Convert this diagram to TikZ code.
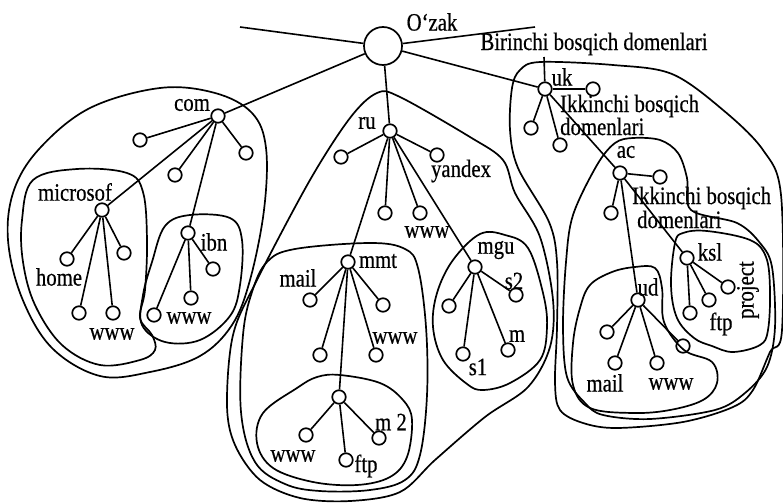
\documentclass[tikz,border=0pt]{standalone}
\usepackage{fontspec}
\newfontfamily\lf[FakeStretch=0.83,FakeBold=0.5]{Liberation Serif}
\begin{document}
\begin{tikzpicture}[x=1pt,y=-1pt,
  nd/.style={circle,draw,line width=1.7pt,minimum size=13.5pt,inner sep=0pt},
  rootnd/.style={circle,draw,line width=1.7pt,minimum size=38pt,inner sep=0pt},
  lbl/.style={font=\lf\fontsize{25}{25}\selectfont,inner sep=0pt},
  edge/.style={line width=1.6pt},
  blobline/.style={line width=1.7pt}]
\useasboundingbox (0,0) rectangle (783,503);

% ---------- contours ----------
% com
\draw[blobline] plot[smooth cycle,tension=0.6] coordinates {(8,240) (14,190) (40,148) (90,108) (160,88) (215,93) (252,113) (266,148) (264,210) (250,280) (232,325) (200,356) (150,372) (100,376) (52,348) (22,298)};
% microsof
\draw[blobline] plot[smooth cycle,tension=0.6] coordinates {(33,180) (77,169) (127,173) (143,192) (147,240) (145,290) (140,318) (152,335) (155,350) (140,360) (100,365) (62,345) (35,305) (23,262) (22,220)};
% ibn
\draw[blobline] plot[smooth cycle,tension=0.6] coordinates {(165,226) (190,215) (230,218) (242,240) (240,285) (230,316) (200,340) (165,342) (142,325) (143,295) (152,262)};
% ru
\draw[blobline] plot[smooth cycle,tension=0.55] coordinates {(377,93) (400,97) (470,137) (503,160) (515,193) (540,237) (553,300) (550,347) (528,387) (485,417) (435,460) (400,492) (350,501) (300,498) (260,480) (235,445) (227,405) (233,335) (257,280) (310,180) (350,118)};
% mmt
\draw[blobline] plot[smooth cycle,tension=0.6] coordinates {(267,262) (295,249) (370,243) (405,249) (418,268) (426,327) (427,395) (420,455) (405,480) (370,490) (320,491) (285,484) (255,462) (241,412) (243,335) (252,292)};
% m2
\draw[blobline] plot[smooth cycle,tension=0.6] coordinates {(297,388) (317,377) (340,375) (380,383) (403,400) (412,420) (407,457) (390,477) (357,485) (313,482) (273,468) (257,443) (263,413)};
% mgu
\draw[blobline] plot[smooth cycle,tension=0.6] coordinates {(480,234) (505,235) (528,248) (543,293) (547,327) (540,360) (510,383) (483,390) (467,384) (443,360) (433,327) (437,293) (453,260)};
% uk
\draw[blobline] plot[smooth cycle,tension=0.55] coordinates {(512,88) (520,70) (540,62) (613,65) (672,74) (723,110) (763,150) (781,195) (782,330) (770,352) (753,390) (733,407) (683,422) (617,428) (583,423) (560,410) (555,383) (557,327) (557,262) (549,222) (518,168) (510,130)};
% ac
\draw[blobline] plot[smooth cycle,tension=0.55] coordinates {(597,165) (615,143) (633,138) (660,140) (678,153) (687,178) (691,210) (737,223) (760,243) (772,267) (775,327) (767,367) (745,393) (715,410) (650,419) (603,415) (585,403) (567,377) (563,327) (566,262) (573,215)};
% ksl
\draw[blobline] plot[smooth cycle,tension=0.6] coordinates {(675,243) (683,233) (707,231) (750,240) (766,257) (770,290) (768,330) (760,345) (733,352) (712,346) (694,338) (677,318) (671,285)};
% ud
\draw[blobline] plot[smooth cycle,tension=0.6] coordinates {(590,285) (612,272) (635,267) (655,268) (662,288) (664,322) (684,350) (712,362) (717,383) (703,400) (670,410) (633,413) (590,408) (573,385) (573,343) (580,308)};

% ---------- nodes ----------
\node[rootnd] (R) at (383,46) {};
\coordinate (rootL) at (240,27);
\coordinate (rootR) at (535,27);
\coordinate (birP) at (544,57);

\node[nd] (C) at (218,116) {};
\node[nd] (c1) at (140,140) {};
\node[nd] (c2) at (246,153) {};
\node[nd] (c3) at (175,175) {};
\node[nd] (M) at (102,210) {};
\node[nd] (m1) at (67,259) {};
\node[nd] (m2) at (124,253) {};
\node[nd] (m3) at (79,313) {};
\node[nd] (m4) at (113,313) {};
\node[nd] (I) at (188,233) {};
\node[nd] (i1) at (213,269) {};
\node[nd] (i2) at (191,298) {};
\node[nd] (i3) at (154,315) {};

\node[nd] (U) at (390,131) {};
\node[nd] (u1) at (341,157) {};
\node[nd] (u2) at (437,155) {};
\node[nd] (u3) at (385,213) {};
\node[nd] (u4) at (420,213) {};
\node[nd] (T) at (348,262) {};
\node[nd] (t1) at (310,300) {};
\node[nd] (t2) at (383,305) {};
\node[nd] (t3) at (320,355) {};
\node[nd] (t4) at (376,355) {};
\node[nd] (P) at (339,397) {};
\node[nd] (p1) at (306,435) {};
\node[nd] (p2) at (379,438) {};
\node[nd] (p3) at (346,460) {};
\node[nd] (G) at (475,267) {};
\node[nd] (g1) at (449,306) {};
\node[nd] (g2) at (516,295) {};
\node[nd] (g3) at (463,354) {};
\node[nd] (g4) at (508,350) {};

\node[nd] (K) at (545,89) {};
\node[nd] (k1) at (593,89) {};
\node[nd] (k2) at (531,128) {};
\node[nd] (k3) at (560,145) {};
\node[nd] (A) at (620,173) {};
\node[nd] (a1) at (660,177) {};
\node[nd] (a2) at (611,213) {};
\node[nd] (S) at (687,258) {};
\node[nd] (s1) at (728,287) {};
\node[nd] (s2) at (709,300) {};
\node[nd] (s3) at (690,313) {};
\node[nd] (D) at (638,300) {};
\node[nd] (d1) at (607,332) {};
\node[nd] (d2) at (615,363) {};
\node[nd] (d3) at (657,363) {};
\node[nd] (d4) at (683,346) {};

% ---------- connectors ----------
\draw[edge] (rootL) -- (R);
\draw[edge] (rootR) -- (R);
\draw[edge] (birP) -- (K);
\draw[edge] (R) -- (C);
\draw[edge] (R) -- (U);
\draw[edge] (R) -- (K);
\foreach \a/\b in {C/c1,C/c2,C/c3,C/M,C/I,M/m1,M/m2,M/m3,M/m4,I/i1,I/i2,I/i3,
  U/u1,U/u2,U/u3,U/u4,U/T,U/G,T/t1,T/t2,T/t3,T/t4,T/P,P/p1,P/p2,P/p3,
  G/g1,G/g2,G/g3,G/g4,K/k1,K/k2,K/k3,K/A,A/a1,A/a2,A/S,A/D,
  S/s1,S/s2,S/s3,D/d1,D/d2,D/d3,D/d4}
  \draw[edge] (\a) -- (\b);

% ---------- labels ----------
\node[lbl] (tOzak) at (432,22) {O‘zak};
\node[lbl] (tBir) at (594,44) {Birinchi bosqich domenlari};
\node[lbl,anchor=base west] (tIk1) at (560,112) {Ikkinchi bosqich};
\node[lbl,anchor=base west] (tIk1b) at (560,135) {domenlari};
\node[lbl,anchor=base west] (tIk2) at (632,204) {Ikkinchi bosqich};
\node[lbl,anchor=base west] (tIk2b) at (637,228) {domenlari};
\node[lbl] (tcom) at (192,105) {com};
\node[lbl] (tru) at (367,123) {ru};
\node[lbl] (tuk) at (562,77) {uk};
\node[lbl] (tmic) at (75,192) {microsof};
\node[lbl] (thome) at (59,277) {home};
\node[lbl] (tw1) at (112,334) {www};
\node[lbl] (tibn) at (214,242) {ibn};
\node[lbl] (tw2) at (189,318) {www};
\node[lbl] (tyan) at (461,171) {yandex};
\node[lbl] (tw3) at (427,232) {www};
\node[lbl] (tmmt) at (378,261) {mmt};
\node[lbl] (tmail1) at (298,278) {mail};
\node[lbl] (tw4) at (395,338) {www};
\node[lbl] (tm2) at (391,422) {m 2};
\node[lbl] (tw5) at (293,456) {www};
\node[lbl] (tftp1) at (366,466) {ftp};
\node[lbl] (tmgu) at (496,250) {mgu};
\node[lbl] (ts2) at (514,281) {s2};
\node[lbl] (tm) at (517,336) {m};
\node[lbl] (ts1) at (478,367) {s1};
\node[lbl] (tac) at (626,152) {ac};
\node[lbl] (tksl) at (710,252) {ksl};
\node[lbl] (tftp2) at (721,324) {ftp};
\node[lbl,rotate=90] (tproj) at (748,290) {project};
\node[lbl] (tud) at (648,287) {ud};
\node[lbl] (tmail2) at (605,383) {mail};
\node[lbl] (tw6) at (671,384) {www};
\end{tikzpicture}
\end{document}
